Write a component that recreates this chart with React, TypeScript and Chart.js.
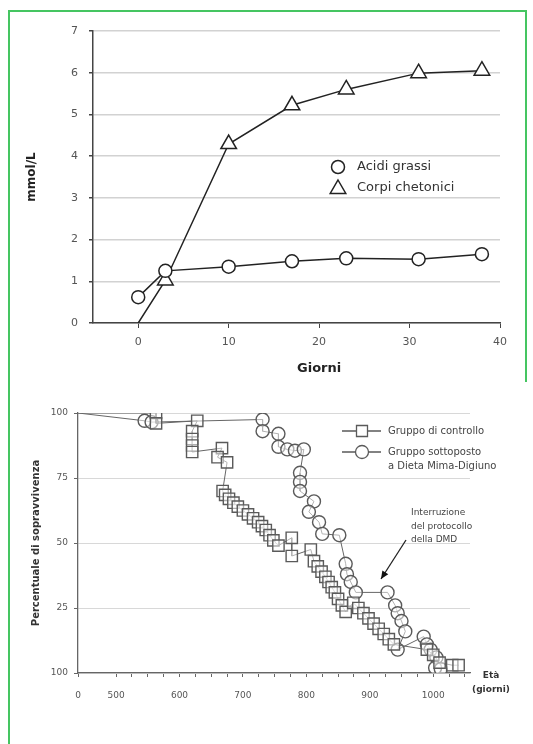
import React, { useEffect, useRef } from 'react';
import { Chart, registerables } from 'chart.js';

Chart.register(...registerables);

const FONT = "'DejaVu Sans', 'Liberation Sans', Arial, sans-serif";

// ---------- Top chart data ----------
const giorni = [0, 3, 10, 17, 23, 31, 38];
const acidiGrassi = [0.62, 1.25, 1.35, 1.48, 1.55, 1.53, 1.65];
const corpiChetonici = [0, 1.02, 4.29, 5.22, 5.6, 5.99, 6.05];
const giorniTicks = [0, 10, 20, 30, 40];
const mmolTicks = [0, 1, 2, 3, 4, 5, 6, 7];

// ---------- Bottom chart data ----------
const controlloEta = [440, 563, 563, 628, 620, 620, 620, 620, 667, 660, 675, 668, 672, 678, 685, 692, 700, 708, 716, 724, 730, 736, 742, 748, 756, 777, 777, 807, 812, 818, 824, 830, 835, 840, 845, 850, 856, 862, 874, 882, 890, 898, 906, 914, 922, 930, 938, 990, 1000, 1010, 1030, 1040];
const controlloSopr = [100, 100, 96, 97, 93, 90, 87.5, 85, 86.5, 83, 81, 70, 68.5, 67, 65.5, 64, 62.5, 61, 59.5, 58, 56.5, 55, 53, 51, 49, 52, 45, 47.5, 43, 41, 39, 37, 35, 33, 31, 28.5, 26, 23.5, 27, 25, 23, 21, 19, 17, 15, 13, 11, 9, 7, 4, 3, 3];
const dmdEta = [440, 545, 556, 731, 731, 756, 756, 770, 782, 796, 790, 790, 790, 812, 804, 820, 825, 852, 862, 864, 870, 878, 928, 940, 944, 950, 956, 944, 985, 990, 996, 1005, 1003, 1012];
const dmdSopr = [100, 97, 96.5, 97.5, 93, 92, 87, 86, 85.5, 86, 77, 73.5, 70, 66, 62, 58, 53.5, 53, 42, 38, 35, 31, 31, 26, 23, 20, 16, 9, 14, 11, 9, 6, 2, 1.5];
const etaTickValues = [440, 500, 600, 700, 800, 900, 1000];
const etaTickLabels = ['0', '500', '600', '700', '800', '900', '1000'];
const etaMinorStep = 25;
const sopravTickValues = [0, 25, 50, 75, 100];
const sopravTickLabels = ['100', '25', '50', '75', '100'];

const zip = (xs: number[], ys: number[]) => xs.map((x, i) => ({ x, y: ys[i] }));

function TopChart() {
  const ref = useRef<HTMLCanvasElement | null>(null);
  useEffect(() => {
    if (!ref.current) return;
    const extras = {
      id: 'topExtras',
      afterDraw(chart: any) {
        const ctx = chart.ctx as CanvasRenderingContext2D;
        const xs = chart.scales.x;
        ctx.save();
        ctx.fillStyle = '#222';
        ctx.font = `bold 13px ${FONT}`;
        ctx.textAlign = 'center';
        ctx.textBaseline = 'middle';
        ctx.fillText('Giorni', xs.getPixelForValue(20), 369);
        // legend
        ctx.strokeStyle = '#222';
        ctx.lineWidth = 1.5;
        ctx.fillStyle = '#fff';
        ctx.beginPath();
        ctx.arc(338, 167, 6.5, 0, Math.PI * 2);
        ctx.fill();
        ctx.stroke();
        const cx = 338, cy = 189, r = 9;
        ctx.beginPath();
        ctx.moveTo(cx, cy - r);
        ctx.lineTo(cx + r * 0.866, cy + r * 0.5);
        ctx.lineTo(cx - r * 0.866, cy + r * 0.5);
        ctx.closePath();
        ctx.fill();
        ctx.stroke();
        ctx.fillStyle = '#333';
        ctx.font = `13px ${FONT}`;
        ctx.textAlign = 'left';
        ctx.fillText('Acidi grassi', 357, 167);
        ctx.fillText('Corpi chetonici', 357, 188);
        ctx.restore();
      },
    };
    const chart = new Chart(ref.current, {
      type: 'line',
      data: {
        datasets: [
          {
            label: 'Acidi grassi',
            data: zip(giorni, acidiGrassi),
            borderColor: '#222',
            borderWidth: 1.5,
            pointStyle: 'circle',
            pointRadius: 6.5,
            pointBorderWidth: 1.5,
            pointBorderColor: '#222',
            pointBackgroundColor: '#fff',
          },
          {
            label: 'Corpi chetonici',
            data: zip(giorni, corpiChetonici),
            borderColor: '#222',
            borderWidth: 1.5,
            pointStyle: 'triangle',
            pointRadius: (c: any) => (c.dataIndex === 0 ? 0 : 9),
            pointBorderWidth: 1.5,
            pointBorderColor: '#222',
            pointBackgroundColor: '#fff',
          },
        ],
      },
      options: {
        animation: false,
        responsive: false,
        devicePixelRatio: 1,
        layout: { padding: { left: 20, top: 31, right: 33, bottom: 0 } },
        plugins: { legend: { display: false }, tooltip: { enabled: false } },
        scales: {
          x: {
            type: 'linear',
            min: -5,
            max: 40,
            afterBuildTicks: (s: any) => { s.ticks = giorniTicks.map((v) => ({ value: v })); },
            afterFit: (s: any) => { s.height = 57; },
            grid: { drawOnChartArea: false, drawTicks: true, tickLength: 5, tickColor: '#444' },
            border: { display: true, color: '#444', width: 1.5 },
            ticks: { color: '#555', font: { family: FONT, size: 11 }, padding: 8, maxRotation: 0 },
          },
          y: {
            type: 'linear',
            min: 0,
            max: 7,
            afterBuildTicks: (s: any) => { s.ticks = mmolTicks.map((v) => ({ value: v })); },
            afterFit: (s: any) => { s.width = 73; },
            grid: { color: '#d2d2d2', lineWidth: 1.5, tickLength: 4, tickColor: '#444' },
            border: { display: true, color: '#444', width: 1.5 },
            ticks: { color: '#555', font: { family: FONT, size: 11 }, padding: 11 },
            title: { display: true, text: 'mmol/L', color: '#222', font: { family: FONT, size: 12, weight: 'bold' }, padding: { top: 5, bottom: 0 } },
          },
        },
      } as any,
      plugins: [extras],
    });
    return () => chart.destroy();
  }, []);
  return <canvas ref={ref} width={533} height={380} style={{ position: 'absolute', left: 0, top: 0, display: 'block' }} />;
}

function BottomChart() {
  const ref = useRef<HTMLCanvasElement | null>(null);
  useEffect(() => {
    if (!ref.current) return;
    const extras = {
      id: 'bottomExtras',
      afterDraw(chart: any) {
        const ctx = chart.ctx as CanvasRenderingContext2D;
        ctx.save();
        // legend
        ctx.strokeStyle = '#5a5a5a';
        ctx.lineWidth = 1.3;
        ctx.beginPath();
        ctx.moveTo(342, 51); ctx.lineTo(381, 51);
        ctx.moveTo(342, 72); ctx.lineTo(381, 72);
        ctx.stroke();
        ctx.fillStyle = '#fff';
        ctx.beginPath();
        ctx.rect(356.5, 45.5, 11, 11);
        ctx.fill(); ctx.stroke();
        ctx.beginPath();
        ctx.arc(362, 72, 6.5, 0, Math.PI * 2);
        ctx.fill(); ctx.stroke();
        ctx.fillStyle = '#444';
        ctx.font = `10px ${FONT}`;
        ctx.textAlign = 'left';
        ctx.textBaseline = 'middle';
        ctx.fillText('Gruppo di controllo', 388, 51);
        ctx.fillText('Gruppo sottoposto', 388, 72);
        ctx.fillText('a Dieta Mima-Digiuno', 388, 86);
        // annotation
        ctx.font = `9px ${FONT}`;
        ctx.fillText('Interruzione', 411, 133);
        ctx.fillText('del protocollo', 411, 147);
        ctx.fillText('della DMD', 411, 160);
        // arrow
        const tx = 381, ty = 199, sx = 406, sy = 160;
        ctx.strokeStyle = '#222';
        ctx.lineWidth = 1.3;
        ctx.beginPath();
        ctx.moveTo(sx, sy); ctx.lineTo(tx, ty);
        ctx.stroke();
        const ang = Math.atan2(ty - sy, tx - sx);
        const hl = 8, hw = 3.5;
        ctx.fillStyle = '#111';
        ctx.beginPath();
        ctx.moveTo(tx, ty);
        ctx.lineTo(tx - hl * Math.cos(ang) + hw * Math.sin(ang), ty - hl * Math.sin(ang) - hw * Math.cos(ang));
        ctx.lineTo(tx - hl * Math.cos(ang) - hw * Math.sin(ang), ty - hl * Math.sin(ang) + hw * Math.cos(ang));
        ctx.closePath();
        ctx.fill();
        // x axis title
        ctx.fillStyle = '#333';
        ctx.font = `bold 9px ${FONT}`;
        ctx.textAlign = 'center';
        ctx.fillText('Età', 491, 296);
        ctx.fillText('(giorni)', 491, 310);
        ctx.restore();
      },
    };
    const minor: number[] = [];
    for (let v = 500; v <= 1050; v += etaMinorStep) minor.push(v);
    const allTicks = [etaTickValues[0], ...minor];
    const chart = new Chart(ref.current, {
      type: 'line',
      data: {
        datasets: [
          {
            label: 'Gruppo di controllo',
            data: zip(controlloEta, controlloSopr),
            borderColor: '#666',
            borderWidth: 1,
            pointStyle: 'rect',
            pointRadius: (c: any) => (c.dataIndex === 0 ? 0 : 8),
            pointBorderWidth: 1.4,
            pointBorderColor: '#5a5a5a',
            pointBackgroundColor: 'rgba(255,255,255,0.5)',
          },
          {
            label: 'Gruppo sottoposto a Dieta Mima-Digiuno',
            data: zip(dmdEta, dmdSopr),
            borderColor: '#666',
            borderWidth: 1,
            pointStyle: 'circle',
            pointRadius: (c: any) => (c.dataIndex === 0 ? 0 : 6.5),
            pointBorderWidth: 1.4,
            pointBorderColor: '#5a5a5a',
            pointBackgroundColor: 'rgba(255,255,255,0.5)',
          },
        ],
      },
      options: {
        animation: false,
        responsive: false,
        devicePixelRatio: 1,
        layout: { padding: { left: 15, top: 33, right: 63, bottom: 0 } },
        plugins: { legend: { display: false }, tooltip: { enabled: false } },
        scales: {
          x: {
            type: 'linear',
            min: 440,
            max: 1058,
            afterBuildTicks: (s: any) => { s.ticks = allTicks.map((v) => ({ value: v })); },
            afterFit: (s: any) => { s.height = 71; },
            grid: { drawOnChartArea: false, drawTicks: true, tickLength: 4, tickColor: '#666' },
            border: { display: true, color: '#666', width: 1.3 },
            ticks: {
              color: '#555',
              font: { family: FONT, size: 9 },
              padding: 13,
              maxRotation: 0,
              autoSkip: false,
              callback: (v: any) => {
                const i = etaTickValues.indexOf(Number(v));
                return i >= 0 ? etaTickLabels[i] : '';
              },
            },
          },
          y: {
            type: 'linear',
            min: 0,
            max: 100,
            afterBuildTicks: (s: any) => { s.ticks = sopravTickValues.map((v) => ({ value: v })); },
            afterFit: (s: any) => { s.width = 63; },
            grid: { color: '#d8d8d8', lineWidth: 1, tickLength: 4, tickColor: '#666' },
            border: { display: true, color: '#666', width: 1.3 },
            ticks: {
              color: '#555',
              font: { family: FONT, size: 9 },
              padding: 6,
              callback: (v: any) => {
                const i = sopravTickValues.indexOf(Number(v));
                return i >= 0 ? sopravTickLabels[i] : '';
              },
            },
            title: { display: true, text: 'Percentuale di sopravvivenza', color: '#333', font: { family: FONT, size: 10, weight: 'bold' }, padding: { top: 15, bottom: 0 } },
          },
        },
      } as any,
      plugins: [extras],
    });
    return () => chart.destroy();
  }, []);
  return <canvas ref={ref} width={533} height={364} style={{ position: 'absolute', left: 0, top: 380, display: 'block' }} />;
}

export default function App() {
  const green = '#45c561';
  return (
    <div style={{ position: 'absolute', left: 0, top: 0, width: 533, height: 744, background: '#fff', overflow: 'hidden' }}>
      <div style={{ position: 'absolute', left: 8, top: 10, width: 519, height: 2, background: green }} />
      <div style={{ position: 'absolute', left: 8, top: 10, width: 2, height: 734, background: green }} />
      <div style={{ position: 'absolute', left: 525, top: 10, width: 2, height: 372, background: green }} />
      <TopChart />
      <BottomChart />
    </div>
  );
}
